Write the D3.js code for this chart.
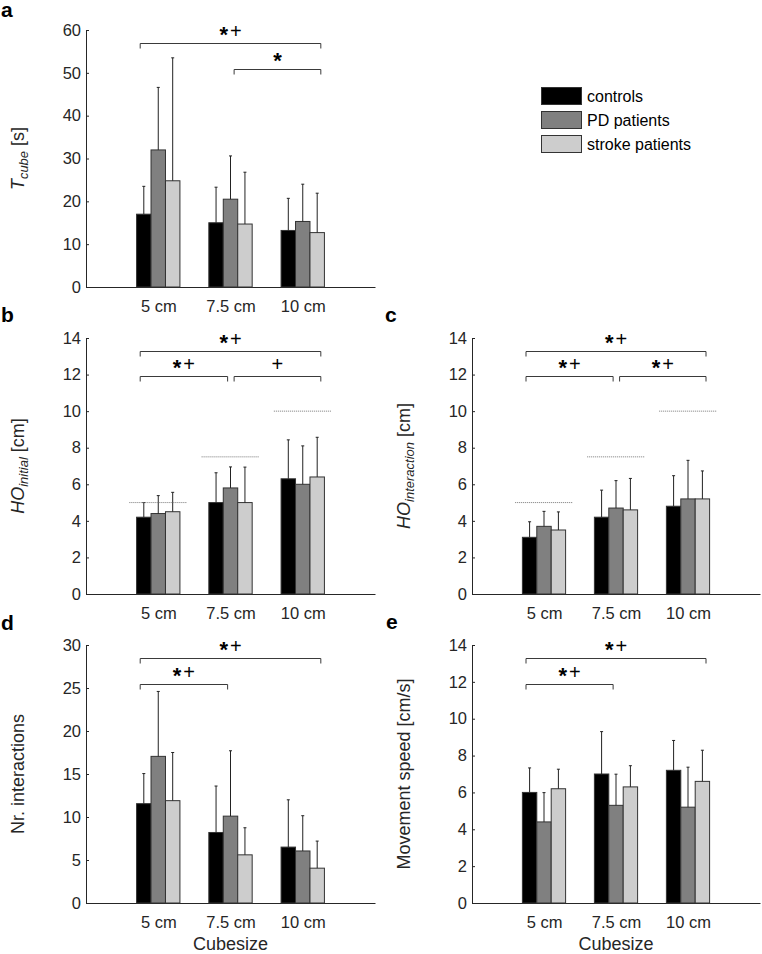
<!DOCTYPE html>
<html><head><meta charset="utf-8">
<script src="https://cdn.jsdelivr.net/npm/d3@7"></script>
<style>
body{margin:0;background:#fff}
svg{display:block}
text{font-family:"Liberation Sans",Arial,Helvetica,sans-serif}
</style>
</head><body>
<svg id="chart" width="762" height="954"></svg>
<script>
// ---------- data ----------
const categories = ["5 cm", "7.5 cm", "10 cm"];
const groups = ["controls", "PD patients", "stroke patients"];
// rows: controls, PD patients, stroke patients ; columns: categories
const tcubeMean   = [[17.0, 15.0, 13.2], [32.0, 20.5, 15.3], [24.8, 14.7, 12.7]];
const tcubeSD     = [[6.5, 8.3, 7.5], [14.6, 10.1, 8.7], [28.7, 12.1, 9.2]];
const hoInitMean  = [[4.2, 5.0, 6.3], [4.4, 5.8, 6.0], [4.5, 5.0, 6.4]];
const hoInitSD    = [[0.8, 1.63, 2.13], [0.98, 1.15, 2.1], [1.06, 1.94, 2.17]];
const hoInterMean = [[3.1, 4.2, 4.8], [3.7, 4.7, 5.2], [3.5, 4.6, 5.2]];
const hoInterSD   = [[0.85, 1.48, 1.67], [0.82, 1.5, 2.11], [0.99, 1.72, 1.53]];
const nrIntMean   = [[11.55, 8.2, 6.5], [17.05, 10.1, 6.05], [11.9, 5.6, 4.05]];
const nrIntSD     = [[3.5, 5.4, 5.5], [7.55, 7.6, 4.1], [5.6, 3.15, 3.15]];
const speedMean   = [[6.0, 7.0, 7.2], [4.4, 5.3, 5.2], [6.2, 6.3, 6.6]];
const speedSD     = [[1.33, 2.3, 1.62], [1.59, 1.69, 2.17], [1.06, 1.15, 1.69]];
const cubeSizeRef = [5, 7.5, 10];
const ticks60 = [0, 10, 20, 30, 40, 50, 60];
const ticks14 = [0, 2, 4, 6, 8, 10, 12, 14];
const ticks30 = [0, 5, 10, 15, 20, 25, 30];
// significance brackets: [from category, to category, level, label]
const bracketsA = [["5 cm", "10 cm", 57, "*+"], ["7.5 cm", "10 cm", 51, "*"]];
const bracketsB = [["5 cm", "10 cm", 13.3, "*+"], ["5 cm", "7.5 cm", 11.9, "*+"], ["7.5 cm", "10 cm", 11.9, "+"]];
const bracketsC = [["5 cm", "10 cm", 13.3, "*+"], ["5 cm", "7.5 cm", 11.9, "*+"], ["7.5 cm", "10 cm", 11.9, "*+"]];
const bracketsD = [["5 cm", "10 cm", 28.5, "*+"], ["5 cm", "7.5 cm", 25.5, "*+"]];
const bracketsE = [["5 cm", "10 cm", 13.3, "*+"], ["5 cm", "7.5 cm", 11.9, "*+"]];

// ---------- style ----------
const fills = ["#000000", "#808080", "#cdcdcd"];
const axisColor = "#262626";
const svg = d3.select("#chart");

function drawPanel(cfg) {
  const g = svg.append("g");
  const x = d3.scaleLinear().domain([0, 4]).range([cfg.left, cfg.right]);
  const y = d3.scaleLinear().domain([0, cfg.ymax]).range([cfg.bottom, cfg.top]);
  const barW = 0.2;

  // x axis
  const xa = g.append("g").attr("transform", `translate(0,${cfg.bottom})`)
    .call(d3.axisBottom(x).tickValues([1, 2, 3]).tickFormat(d => categories[d - 1])
      .tickSizeInner(-3).tickSizeOuter(0).tickPadding(13));
  // y axis
  const ya = g.append("g").attr("transform", `translate(${cfg.left},0)`)
    .call(d3.axisLeft(y).tickValues(cfg.ticks).tickSizeInner(-3).tickSizeOuter(0).tickPadding(5));
  [xa, ya].forEach(a => {
    a.select(".domain").attr("stroke", axisColor);
    a.selectAll(".tick line").attr("stroke", axisColor);
    a.selectAll(".tick text").attr("fill", axisColor).style("font-size", "16.5px")
      .style("font-family", '"Liberation Sans",Arial,sans-serif');
  });

  // bars
  const barData = [];
  cfg.mean.forEach((row, s) => row.forEach((v, c) => {
    barData.push({s, c, v, sd: cfg.sd[s][c], xc: (c + 1) + (s - 1) * barW});
  }));
  g.selectAll("rect.bar").data(barData).join("rect").attr("class", "bar")
    .attr("x", d => x(d.xc - barW / 2))
    .attr("width", x(barW) - x(0))
    .attr("y", d => y(d.v))
    .attr("height", d => y(0) - y(d.v))
    .attr("fill", d => fills[d.s])
    .attr("stroke", "#333").attr("stroke-width", 1);

  // error bars (upper only)
  const eb = g.selectAll("g.err").data(barData).join("g").attr("class", "err")
    .attr("stroke", "#222").attr("stroke-width", 1);
  eb.append("line").attr("x1", d => x(d.xc)).attr("x2", d => x(d.xc))
    .attr("y1", d => y(d.v)).attr("y2", d => y(d.v + d.sd));
  eb.append("line").attr("x1", d => x(d.xc) - 1.5).attr("x2", d => x(d.xc) + 1.5)
    .attr("y1", d => y(d.v + d.sd)).attr("y2", d => y(d.v + d.sd));

  // cube-size reference lines
  if (cfg.ref) {
    g.selectAll("line.ref").data(cfg.ref).join("line").attr("class", "ref")
      .attr("x1", (d, i) => x(i + 1 - 0.4)).attr("x2", (d, i) => x(i + 1 + 0.4))
      .attr("y1", d => y(d)).attr("y2", d => y(d))
      .attr("stroke", "#777").attr("stroke-width", 1).attr("stroke-dasharray", "1,1");
  }

  // significance brackets
  cfg.brackets.forEach(b => {
    const i = categories.indexOf(b[0]) + 1, j = categories.indexOf(b[1]) + 1;
    const x1 = x(i === 1 ? i - 0.25 : i + 0.05);
    const x2 = x(j === 3 ? j + 0.25 : j - 0.04);
    const yy = Math.round(y(b[2])) + 0.5;
    g.append("path").attr("d", `M${x1},${yy + 5}V${yy}H${x2}V${yy + 5}`)
      .attr("fill", "none").attr("stroke", "#3a3a3a").attr("stroke-width", 1);
    const t = g.append("text").attr("x", (x1 + x2) / 2).attr("y", yy - 6)
      .attr("text-anchor", "middle").attr("fill", "#000").style("font-size", "20px");
    const parts = b[3].split("");
    parts.forEach((p, k) => {
      if (p === "*") t.append("tspan").attr("dy", "0.2em").style("font-size", "22px").style("font-weight", "bold").text("*");
      else t.append("tspan").attr("dy", parts[0] === "*" ? "-0.22em" : "0").attr("dx", parts[0] === "*" ? 2 : 0).text("+");
    });
  });

  // y label
  const yl = g.append("text")
    .attr("transform", `translate(${cfg.left - 62},${(cfg.top + cfg.bottom) / 2}) rotate(-90)`)
    .attr("text-anchor", "middle").attr("fill", axisColor).style("font-size", "18px");
  cfg.ylabel.forEach(p => {
    const ts = yl.append("tspan").text(p.t);
    if (p.i) ts.style("font-style", "italic");
    if (p.sub) ts.style("font-size", "13px").attr("dy", 4);
    if (p.after) ts.attr("dy", -4);
  });

  if (cfg.xlabel) {
    g.append("text").attr("x", (cfg.left + cfg.right) / 2).attr("y", 950)
      .attr("text-anchor", "middle").attr("fill", axisColor).style("font-size", "18px").text(cfg.xlabel);
  }

  svg.append("text").attr("x", cfg.lx).attr("y", cfg.ly).style("font-size", "21px")
    .style("font-weight", "bold").attr("fill", "#000").text(cfg.letter);
}

drawPanel({left: 86, right: 375, top: 30, bottom: 287, ymax: 60, ticks: ticks60,
  mean: tcubeMean, sd: tcubeSD, brackets: bracketsA, letter: "a", lx: 1, ly: 17,
  ylabel: [{t: "T", i: true}, {t: "cube", i: true, sub: true}, {t: " [s]", after: true}]});
drawPanel({left: 86, right: 375, top: 338, bottom: 594, ymax: 14, ticks: ticks14,
  mean: hoInitMean, sd: hoInitSD, brackets: bracketsB, ref: cubeSizeRef, letter: "b", lx: 1, ly: 322,
  ylabel: [{t: "HO", i: true}, {t: "initial", i: true, sub: true}, {t: " [cm]", after: true}]});
drawPanel({left: 472, right: 760, top: 338, bottom: 594, ymax: 14, ticks: ticks14,
  mean: hoInterMean, sd: hoInterSD, brackets: bracketsC, ref: cubeSizeRef, letter: "c", lx: 385, ly: 322,
  ylabel: [{t: "HO", i: true}, {t: "interaction", i: true, sub: true}, {t: " [cm]", after: true}]});
drawPanel({left: 86, right: 375, top: 645, bottom: 903, ymax: 30, ticks: ticks30,
  mean: nrIntMean, sd: nrIntSD, brackets: bracketsD, letter: "d", lx: 1, ly: 630, xlabel: "Cubesize",
  ylabel: [{t: "Nr. interactions"}]});
drawPanel({left: 472, right: 760, top: 645, bottom: 903, ymax: 14, ticks: ticks14,
  mean: speedMean, sd: speedSD, brackets: bracketsE, letter: "e", lx: 386, ly: 629, xlabel: "Cubesize",
  ylabel: [{t: "Movement speed [cm/s]"}]});

// legend
const leg = svg.append("g").attr("transform", "translate(541,87)");
groups.forEach((name, i) => {
  leg.append("rect").attr("x", 0.5).attr("y", i * 24 + 0.5).attr("width", 40).attr("height", 17)
    .attr("fill", fills[i]).attr("stroke", "#333");
  leg.append("text").attr("x", 46).attr("y", i * 24 + 9).attr("dy", "0.35em")
    .style("font-size", "16px").attr("fill", "#000").text(name);
});
</script>
</body></html>
